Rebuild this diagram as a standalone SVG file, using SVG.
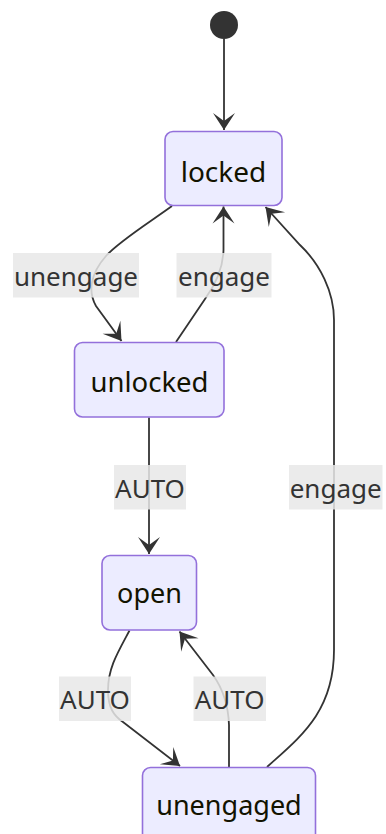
<svg xmlns="http://www.w3.org/2000/svg" width="386" height="834" viewBox="0 0 386 834">
<defs>
<style>
.bg{fill:#ffffff}
.node rect{fill:#ECECFF;stroke:#9370DB;stroke-width:1.6}
.node text{font-family:"Trebuchet MS","Noto Sans",sans-serif;font-size:27px;fill:#131300;text-anchor:middle}
.edges path{fill:none;stroke:#333333;stroke-width:1.8;marker-end:url(#barb)}
.lbl rect{fill:#e8e8e8;fill-opacity:0.85}
.lbl text{font-family:"Trebuchet MS","Noto Sans",sans-serif;font-size:26px;fill:#333333;text-anchor:middle}
</style>
<marker id="barb" markerUnits="userSpaceOnUse" viewBox="-18 -12 19 24" refX="0" refY="0" markerWidth="19" markerHeight="24" orient="auto">
<path d="M0,0 L-17,-11 L-9,0 L-17,11 Z" fill="#333333"/>
</marker>
</defs>
<rect class="bg" x="0" y="0" width="386" height="834"/>
<g id="start"><circle cx="224" cy="25" r="14" fill="#333333"/></g>
<g class="edges" id="connectors">
<path d="M224,39 L224,130"/>
<path d="M172,206 C150,222 118,242 106,256 C90,274 88,292 96,306 L121.5,341"/>
<path d="M176,342 L205,299 Q223,274 223.5,250 L223.5,206.5"/>
<path d="M149,417.5 L149,554"/>
<path d="M129.5,630.5 C118,652 108,668 108,690 C108,708 114,716 123,722 L180,766"/>
<path d="M229,767 L229,725 Q228,696 213,675 L179.5,631.5"/>
<path d="M267,767 C300,737 334,712 334,650 L334,320 C334,292 320,264 300,245 L265.5,207"/>
</g>
<g class="lbl" id="labels">
<g><rect x="13" y="253" width="126" height="44.5"/><text x="76" y="285.5">unengage</text></g>
<g><rect x="176.5" y="253" width="95" height="44.5"/><text x="224" y="285.5">engage</text></g>
<g><rect x="114" y="465" width="72" height="44.5"/><text x="150" y="497.5">AUTO</text></g>
<g><rect x="289" y="465" width="93.5" height="44.5"/><text x="335.7" y="497.5">engage</text></g>
<g><rect x="59" y="676.5" width="72" height="44.5"/><text x="95" y="709">AUTO</text></g>
<g><rect x="193.5" y="676.5" width="72.5" height="44.5"/><text x="229.7" y="709">AUTO</text></g>
</g>
<g class="node" id="locked"><rect x="165" y="131.5" width="117" height="74" rx="8"/><text x="223.5" y="181.5" style="font-size:28px">locked</text></g>
<g class="node" id="unlocked"><rect x="74.5" y="342.5" width="149.5" height="74.5" rx="8"/><text x="149.5" y="391.5" style="font-size:27.5px">unlocked</text></g>
<g class="node" id="open"><rect x="102" y="555.5" width="94.5" height="74.5" rx="8"/><text x="149.5" y="603">open</text></g>
<g class="node" id="unengaged"><rect x="142.5" y="767.5" width="173" height="75" rx="8"/><text x="229" y="815">unengaged</text></g>
</svg>
